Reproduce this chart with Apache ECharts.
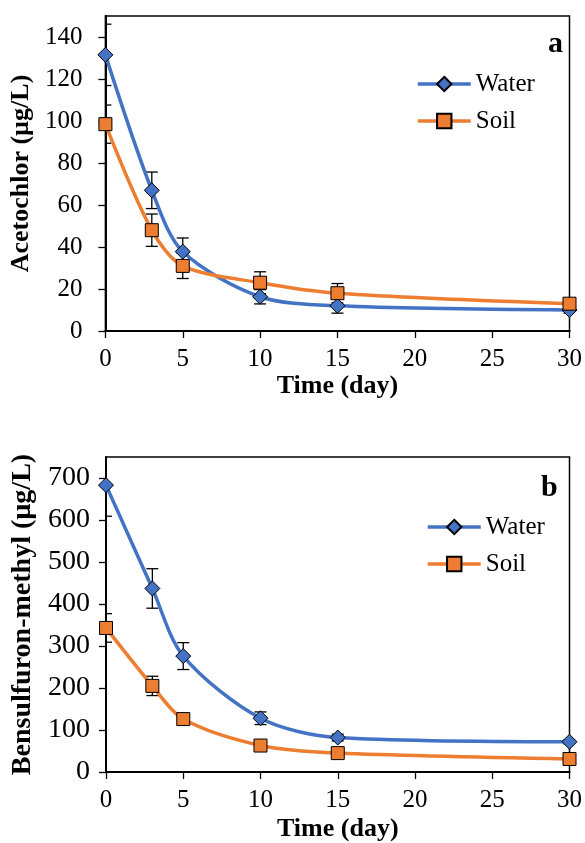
<!DOCTYPE html>
<html>
<head>
<meta charset="utf-8">
<script src="https://cdn.jsdelivr.net/npm/echarts@6/dist/echarts.min.js"></script>
<style>
html,body{margin:0;padding:0;background:#fff;}
#chart{width:585px;height:843px;}
</style>
</head>
<body>
<div id="chart"></div>
<script>
// ---- data ----
const days = [0, 3, 5, 10, 15, 30];
const acetoWater = [131.5, 67, 37.8, 16.3, 12, 10];
const acetoWaterErr = [14.6, 8.7, 6.5, 3.4, 3.5, 1.5];
const acetoSoil = [98.5, 48, 31, 23, 18, 13];
const acetoSoilErr = [9.1, 7.7, 6, 5.2, 4.6, 1.5];
const bsmWater = [683, 437, 276, 128, 82, 72];
const bsmWaterErr = [74, 47, 32, 15, 8, 5];
const bsmSoil = [343, 205, 126, 63, 45, 31];
const bsmSoilErr = [34, 23, 10, 5, 4, 3];
const xTicks = [0, 5, 10, 15, 20, 25, 30];
const yTicksA = [0, 20, 40, 60, 80, 100, 120, 140];
const yTicksB = [0, 100, 200, 300, 400, 500, 600, 700];
const seriesNames = ['Water', 'Soil'];
const panelLabels = ['a', 'b'];
const xTitle = 'Time (day)';
const yTitles = ['Acetochlor (µg/L)', 'Bensulfuron-methyl (µg/L)'];

const FONT = 'Liberation Serif';
const BLUE = '#4472C4';
const ORANGE = '#ED7D31';

function pts(xs, ys) { return xs.map((x, i) => [x, ys[i]]); }
function errPts(xs, ys, es) { return xs.map((x, i) => [x, ys[i], es[i]]); }

function errorBar(params, api) {
  const x = api.value(0), y = api.value(1), e = api.value(2);
  const hi = api.coord([x, y + e]);
  const lo = api.coord([x, y - e]);
  const w = 6;
  const style = { stroke: '#000', lineWidth: 1.3 };
  return {
    type: 'group',
    children: [
      { type: 'line', shape: { x1: hi[0], y1: hi[1], x2: lo[0], y2: lo[1] }, style },
      { type: 'line', shape: { x1: hi[0] - w, y1: hi[1], x2: hi[0] + w, y2: hi[1] }, style },
      { type: 'line', shape: { x1: lo[0] - w, y1: lo[1], x2: lo[0] + w, y2: lo[1] }, style }
    ]
  };
}

function xAxisCfg(gridIndex, gap) {
  return {
    type: 'value', gridIndex, min: 0, max: 30, interval: 5,
    name: xTitle, nameLocation: 'middle', nameGap: gap,
    nameTextStyle: { fontFamily: FONT, fontSize: 26, fontWeight: 'bold', color: '#000' },
    axisLine: { lineStyle: { color: '#000', width: 2 } },
    axisTick: { show: true, length: 7, lineStyle: { color: '#000', width: 1.3 }, customValues: xTicks },
    axisLabel: { fontFamily: FONT, fontSize: 25, color: '#000', margin: 16, customValues: xTicks },
    splitLine: { show: false }
  };
}
function yAxisCfg(gridIndex, max, ticks, gap, margin, title, labelSize, titleSize) {
  return {
    type: 'value', gridIndex, min: 0, max: max,
    name: title, nameLocation: 'middle', nameGap: gap,
    nameTextStyle: { fontFamily: FONT, fontSize: titleSize, fontWeight: 'bold', color: '#000' },
    axisLine: { show: true, lineStyle: { color: '#000', width: 2 } },
    axisTick: { show: true, length: 7, lineStyle: { color: '#000', width: 1.3 }, customValues: ticks },
    axisLabel: { fontFamily: FONT, fontSize: labelSize, color: '#000', margin: margin, customValues: ticks },
    splitLine: { show: false }
  };
}
function lineSeries(name, xi, data, color, symbol, size) {
  return {
    type: 'line', name, xAxisIndex: xi, yAxisIndex: xi, data,
    smooth: 0.3, symbol, symbolSize: size, showAllSymbol: true,
    lineStyle: { color, width: 3.5 },
    itemStyle: { color, borderColor: '#000', borderWidth: 1 },
    z: 3, animation: false
  };
}
function errSeries(xi, data) {
  return {
    type: 'custom', xAxisIndex: xi, yAxisIndex: xi, data, renderItem: errorBar,
    clip: true, z: 2, silent: true, animation: false, tooltip: { show: false }
  };
}
function legendCfg(left, top) {
  return {
    data: seriesNames, orient: 'vertical', left, top,
    itemWidth: 53, itemHeight: 18, itemGap: 11,
    lineStyle: { width: 3.5 },
    textStyle: { fontFamily: FONT, fontSize: 25, color: '#000', lineHeight: 26 },
    selectedMode: false
  };
}

const chart = echarts.init(document.getElementById('chart'), null, { renderer: 'canvas' });
chart.setOption({
  backgroundColor: '#fff',
  animation: false,
  grid: [
    { left: 100, right: 15, top: 16, height: 315, show: true, borderColor: '#000', borderWidth: 1.5, backgroundColor: 'transparent' },
    { left: 106, right: 15, top: 457, height: 320, show: true, borderColor: '#000', borderWidth: 1.5, backgroundColor: 'transparent' }
  ],
  title: [
    { text: panelLabels[0], left: 548, top: 29, textStyle: { fontFamily: FONT, fontSize: 30, fontWeight: 'bold', color: '#000' }, padding: 0 },
    { text: panelLabels[1], left: 541, top: 473, textStyle: { fontFamily: FONT, fontSize: 30, fontWeight: 'bold', color: '#000' }, padding: 0 }
  ],
  legend: [legendCfg(411, 66), legendCfg(421, 509)],
  xAxis: [xAxisCfg(0, 41), xAxisCfg(1, 44)],
  yAxis: [
    yAxisCfg(0, 150, yTicksA, 65, 23, yTitles[0], 25, 26),
    yAxisCfg(1, 750, yTicksB, 66, 16, yTitles[1], 28, 28)
  ],
  series: [
    errSeries(0, errPts(days, acetoWater, acetoWaterErr)),
    errSeries(0, errPts(days, acetoSoil, acetoSoilErr)),
    lineSeries(seriesNames[0], 0, pts(days, acetoWater), BLUE, 'diamond', 15),
    lineSeries(seriesNames[1], 0, pts(days, acetoSoil), ORANGE, 'rect', 13),
    errSeries(1, errPts(days, bsmWater, bsmWaterErr)),
    errSeries(1, errPts(days, bsmSoil, bsmSoilErr)),
    lineSeries(seriesNames[0], 1, pts(days, bsmWater), BLUE, 'diamond', 15),
    lineSeries(seriesNames[1], 1, pts(days, bsmSoil), ORANGE, 'rect', 13)
  ]
});
</script>
</body>
</html>
